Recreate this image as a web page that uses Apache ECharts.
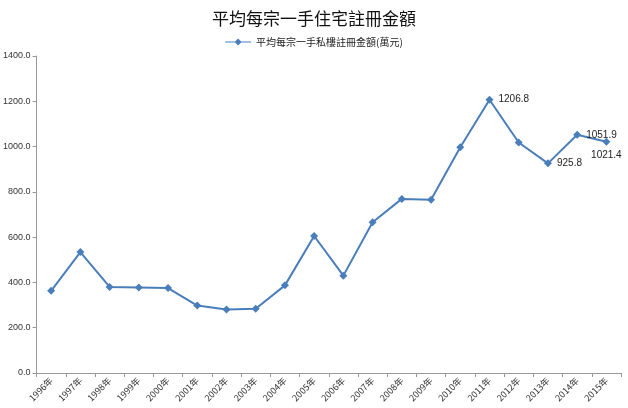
<!DOCTYPE html>
<html><head><meta charset="utf-8">
<script src="https://cdn.jsdelivr.net/npm/echarts@6/dist/echarts.min.js"></script>
<style>html,body{margin:0;padding:0;background:#fff}#c{width:628px;height:408px}</style>
</head><body><div id="c"></div>
<script>
var categories = ['1996年','1997年','1998年','1999年','2000年','2001年','2002年','2003年','2004年','2005年','2006年','2007年','2008年','2009年','2010年','2011年','2012年','2013年','2014年','2015年'];
var values = [363, 534, 380, 378, 375, 298, 280, 284, 387, 605, 430, 666, 769, 765, 997, 1206.8, 1018, 925.8, 1051.9, 1021.4];
var labelPositions = {15: 'right', 17: 'right', 18: 'right', 19: 'bottom'};
var yTicks = {min: 0, max: 1400, interval: 200};
var titleText = '平均每宗一手住宅註冊金額';
var seriesName = '平均每宗一手私樓註冊金額(萬元)';

var data = values.map(function (v, i) {
  var d = {value: v};
  if (labelPositions[i]) {
    d.label = {show: true, position: labelPositions[i], formatter: function (p) { return p.value.toFixed(1); }};
  }
  return d;
});

var chart = echarts.init(document.getElementById('c'));
chart.setOption({
  animation: false,
  title: {text: titleText, left: 'center', top: 5, textStyle: {fontSize: 17, fontWeight: 'normal', color: '#111', fontFamily: 'Noto Sans CJK TC'}},
  legend: {top: 32, left: 'center', itemWidth: 26, itemHeight: 8, textStyle: {fontSize: 10, color: '#222', fontFamily: 'Noto Sans CJK TC'}, data: [{name: seriesName, icon: 'path://M0,4 L10,4 L13,1 L16,4 L26,4 L26,5 L16,5 L13,8 L10,5 L0,5 Z'}]},
  grid: {left: 35, right: 7, top: 56, bottom: 35, containLabel: false},
  xAxis: {
    type: 'category', data: categories, boundaryGap: true,
    axisLine: {lineStyle: {color: '#999'}},
    axisTick: {show: true, lineStyle: {color: '#999'}, length: 4},
    axisLabel: {rotate: 45, fontSize: 9, color: '#333', margin: 6, interval: 0, fontFamily: 'Noto Sans CJK TC'}
  },
  yAxis: {
    type: 'value', min: yTicks.min, max: yTicks.max, interval: yTicks.interval,
    axisLine: {show: true, lineStyle: {color: '#999'}},
    axisTick: {show: true, lineStyle: {color: '#999'}, length: 4},
    splitLine: {show: false},
    axisLabel: {fontSize: 9, color: '#333', margin: 6, formatter: function (v) { return v.toFixed(1); }, fontFamily: 'Liberation Sans'}
  },
  series: [{
    name: seriesName, type: 'line', data: data,
    symbol: 'diamond', symbolSize: 8,
    lineStyle: {color: '#4a7ebb', width: 2},
    itemStyle: {color: '#4a7ebb'},
    label: {fontSize: 10, color: '#222', fontFamily: 'Liberation Sans', distance: 5}
  }]
});
</script></body></html>
